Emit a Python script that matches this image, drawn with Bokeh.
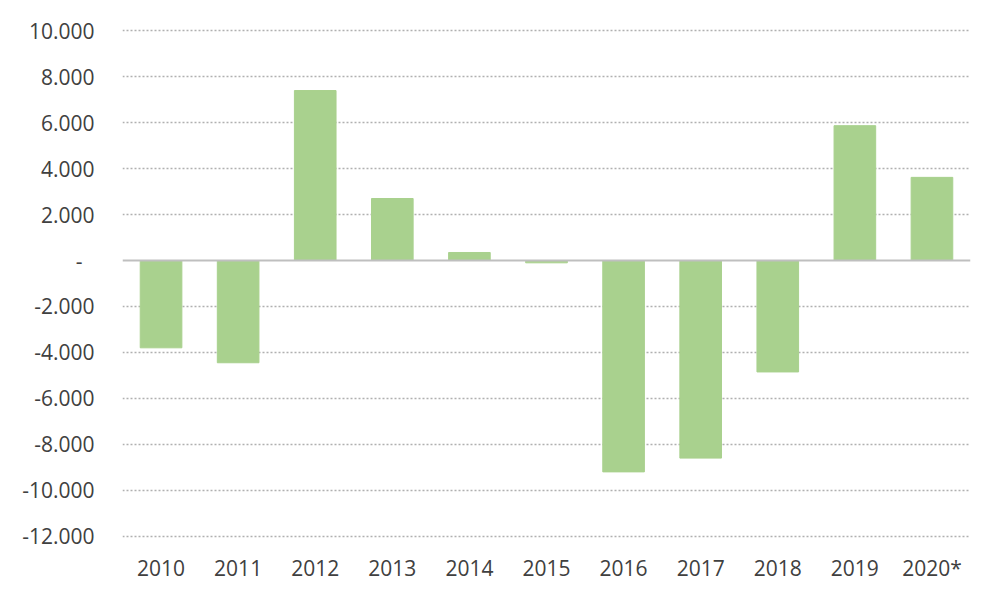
from bokeh.plotting import figure
from bokeh.models import FixedTicker, ColumnDataSource, Span
from bokeh.embed import file_html
from bokeh.resources import INLINE

years = ["2010", "2011", "2012", "2013", "2014", "2015", "2016", "2017", "2018", "2019", "2020*"]
values = [-3800, -4450, 7400, 2700, 350, -100, -9200, -8600, -4850, 5870, 3620]
y_ticks = [-12000, -10000, -8000, -6000, -4000, -2000, 0, 2000, 4000, 6000, 8000, 10000]
y_tick_labels = ["-12.000", "-10.000", "-8.000", "-6.000", "-4.000", "-2.000", "-\u2007",
                 "2.000", "4.000", "6.000", "8.000", "10.000"]

FONT = "Open Sans"
TXT = "#404040"

src = ColumnDataSource(dict(x=years, top=values))

p = figure(width=984, height=584, x_range=years, y_range=(-12100, 10100),
           output_backend="svg", toolbar_location=None,
           min_border_left=122, min_border_right=14, min_border_top=28, min_border_bottom=46)
p.outline_line_color = None

p.vbar(x="x", top="top", bottom=0, width=0.54, source=src, color="#a9d18e")

p.xgrid.grid_line_color = None
p.ygrid.ticker = FixedTicker(ticks=[t for t in y_ticks if t != 0])
p.ygrid.grid_line_color = "#b0b0b0"
p.ygrid.grid_line_dash = "2 2"
p.ygrid.grid_line_width = 1.5

zero = Span(location=0, dimension="width", line_color="#bfbfbf", line_width=2)
p.add_layout(zero)

p.yaxis.ticker = FixedTicker(ticks=y_ticks)
p.yaxis.major_label_overrides = {t: l for t, l in zip(y_ticks, y_tick_labels)}
for ax in (p.xaxis, p.yaxis):
    ax.axis_line_color = None
    ax.major_tick_line_color = None
    ax.minor_tick_line_color = None
    ax.major_label_text_font = FONT
    ax.major_label_text_font_size = "21px"
    ax.major_label_text_color = TXT
p.yaxis.major_label_standoff = 22
p.xaxis.major_label_standoff = 9

open("out.html", "w").write(file_html(p, INLINE))
